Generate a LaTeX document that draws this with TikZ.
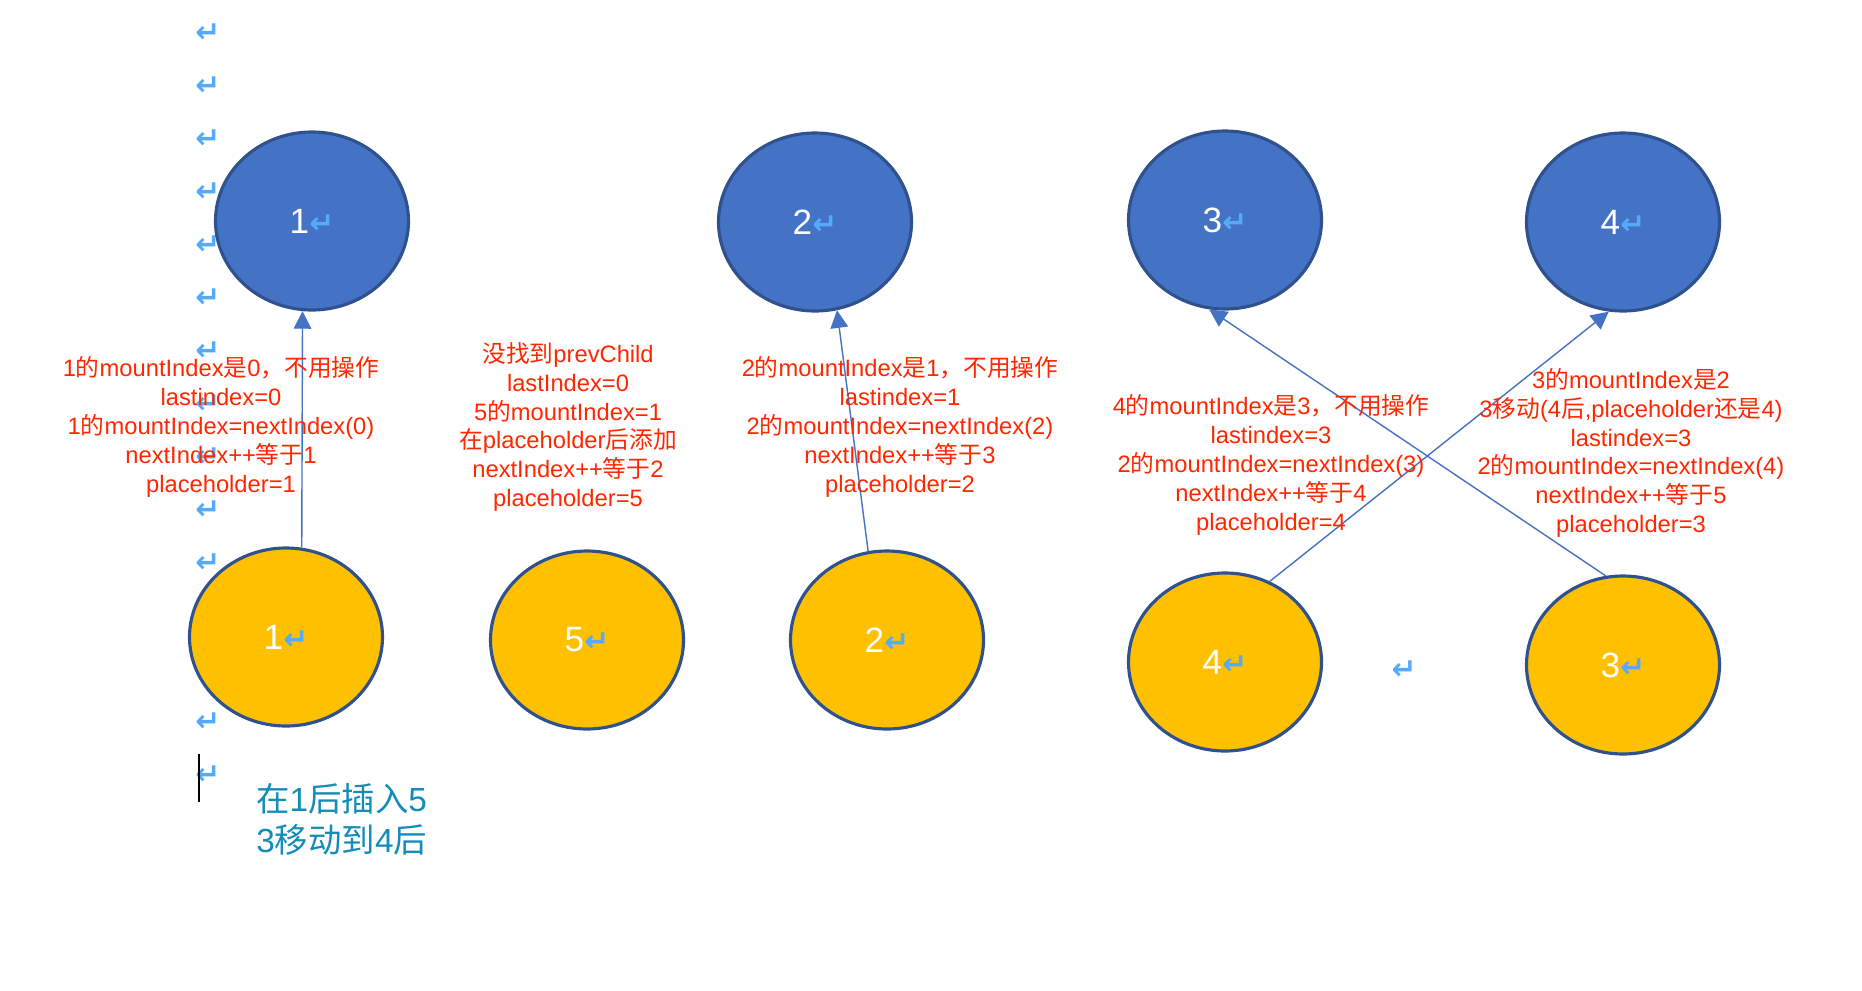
\documentclass[tikz,border=0pt]{standalone}
\usepackage{fontspec}
\setmainfont{Liberation Sans}
\newfontfamily\zhfont{Noto Sans CJK SC}
\newfontfamily\symfont{DejaVu Sans}
\usetikzlibrary{shapes.geometric,arrows.meta}

% Han characters switch to the CJK font by themselves
\XeTeXinterchartokenstate=1
\newXeTeXintercharclass\hanclass
\newcount\hancode
\hancode="3000
\loop
  \XeTeXcharclass\hancode=\hanclass
  \advance\hancode by 1
\ifnum\hancode<"A000 \repeat
\XeTeXcharclass"FF0C=\hanclass
\XeTeXinterchartoks 0 \hanclass = {\zhfont}
\XeTeXinterchartoks 4095 \hanclass = {\zhfont}
\XeTeXinterchartoks \hanclass 0 = {\rmfamily}

\definecolor{nodeblue}{HTML}{4472C4}
\definecolor{rimblue}{HTML}{2F528F}
\definecolor{nodeyellow}{HTML}{FFC000}
\definecolor{notered}{RGB}{255,38,0}
\definecolor{noteteal}{RGB}{20,140,185}
\definecolor{markblue}{RGB}{85,170,250}

\newcommand{\ret}{{\symfont\bfseries\fontsize{17}{17}\selectfont\color{markblue}↵}}

\begin{document}
\begin{tikzpicture}[
  every node/.style={inner sep=0pt},
  vnode/.style={ellipse, draw=rimblue, line width=1.8pt, minimum width=3.86cm, minimum height=3.56cm, text=white, font=\fontsize{20}{24}\selectfont},
  oldnode/.style={vnode, fill=nodeblue},
  newnode/.style={vnode, fill=nodeyellow},
  note/.style={align=center, text=notered, font=\fontsize{13.5}{16.4}\selectfont},
  move/.style={draw=nodeblue, line width=0.8pt, -{Triangle[width=10pt,length=10pt]}}
]
  \useasboundingbox (0,0) rectangle (37.24,-19.8);

  % paragraph marks of the editor
  \foreach \k in {0,...,14}
    \node (m\k) at (4.16,{-0.66-1.06*\k}) {\ret};
  \node (m15) at (28.08,-13.40) {\ret};
  \draw[line width=0.6pt] (3.98,-15.08) -- (3.98,-16.04);

  % 1) old children
  \node[oldnode] (b1) at (6.24,-4.42) {1\ret};
  \node[oldnode] (b2) at (16.30,-4.44) {2\ret};
  \node[oldnode] (b3) at (24.50,-4.40) {3\ret};
  \node[oldnode] (b4) at (32.46,-4.44) {4\ret};

  % 2) new children
  \node[newnode] (y1) at (5.72,-12.74) {1\ret};
  \node[newnode] (y5) at (11.74,-12.80) {5\ret};
  \node[newnode] (y2) at (17.74,-12.80) {2\ret};
  \node[newnode] (y4) at (24.50,-13.24) {4\ret};
  \node[newnode] (y3) at (32.46,-13.30) {3\ret};

  % 3) where each one came from
  \draw[move] (y1.80) -- (b1.264);
  \draw[move] (y2.102) -- (b2.284);
  \draw[move] (y3.101) -- (b3.260);
  \draw[move] (y4.61) -- (b4.261);

  % 4) steps
  \node[note] (t1) at (4.42,-8.54) {1的mountIndex是0，不用操作\\lastindex=0\\1的mountIndex=nextIndex(0)\\nextIndex++等于1\\placeholder=1};
  \node[note] (t2) at (11.36,-8.54) {没找到prevChild\\lastIndex=0\\5的mountIndex=1\\在placeholder后添加\\nextIndex++等于2\\placeholder=5};
  \node[note] (t3) at (18.00,-8.54) {2的mountIndex是1，不用操作\\lastindex=1\\2的mountIndex=nextIndex(2)\\nextIndex++等于3\\placeholder=2};
  \node[note] (t4) at (25.42,-9.30) {4的mountIndex是3，不用操作\\lastindex=3\\2的mountIndex=nextIndex(3)\\nextIndex++等于4\\placeholder=4};
  \node[note] (t5) at (32.62,-9.06) {3的mountIndex是2\\3移动(4后,placeholder还是4)\\lastindex=3\\2的mountIndex=nextIndex(4)\\nextIndex++等于5\\placeholder=3};

  \node[anchor=west, align=left, text=noteteal, font=\fontsize{19}{23}\selectfont] (goal) at (5.12,-16.39) {在1后插入5\\3移动到4后};
\end{tikzpicture}
\end{document}
